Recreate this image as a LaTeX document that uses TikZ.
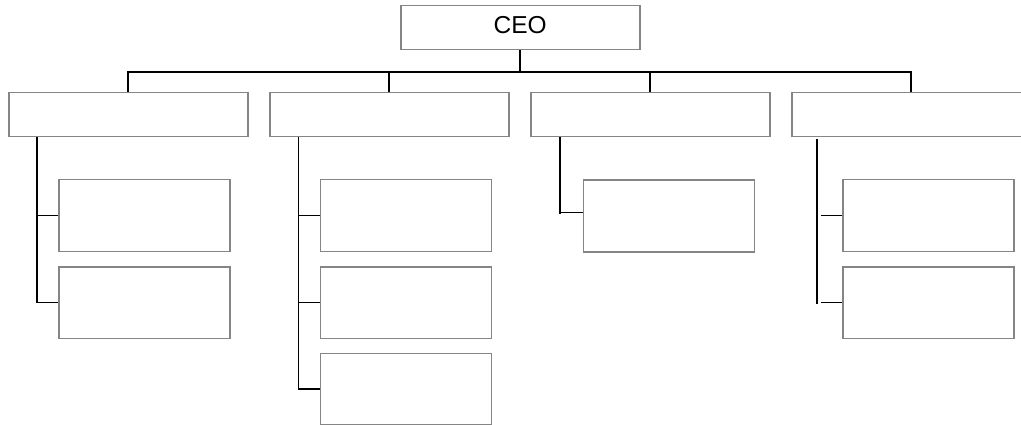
\documentclass[tikz,border=0pt]{standalone}
\usepackage{fontspec}
\setmainfont{Liberation Sans}
\usetikzlibrary{calc}
\definecolor{boxgray}{HTML}{858585}
\begin{document}
\begin{tikzpicture}[x=1pt,y=-1pt,
  box/.style={draw=boxgray, line width=1.5pt, fill=white, inner sep=0pt, anchor=north west},
  headbox/.style={box, minimum width=239pt, minimum height=44pt},
  subbox/.style={box, minimum width=171pt, minimum height=71.5pt},
  link/.style={draw=black, line width=1.6pt}]
\useasboundingbox (0,0) rectangle (1021,425);
% CEO
\node[box, minimum width=239pt, minimum height=44pt, font=\fontsize{24.5}{28}\selectfont, text depth=6pt] (ceo) at (400,5) {CEO};
% level 2
\node[headbox] (d1) at (8,92) {};
\node[headbox] (d2) at (269,92) {};
\node[headbox] (d3) at (530,92) {};
\node[headbox] (d4) at (791,92) {};
% level 3
\node[subbox] (s11) at (58,179) {};
\node[subbox] (s12) at (58,266) {};
\node[subbox] (s21) at (319.7,179) {};
\node[subbox] (s22) at (319.7,266) {};
\node[subbox] (s23) at (319.7,352.5) {};
\node[subbox] (s31) at (582.7,179.5) {};
\node[subbox] (s41) at (842,179) {};
\node[subbox] (s42) at (842,266) {};
% bus
\coordinate (bus) at ($(ceo.south)+(0,21.5)$);
\draw[link] (ceo.south) -- (bus);
\draw[link] (d1.north) |- (bus) -| (d4.north);
\draw[link] (d2.north) -- (d2.north |- bus);
\draw[link] (d3.north) -- (d3.north |- bus);
% column 1
\coordinate (sp1) at ($(d1.south west)+(29,0)$);
\draw[link] (sp1) |- (s12.west);
\draw[link] (s11.west) -- (s11.west -| sp1);
% column 2
\coordinate (sp2) at ($(d2.south west)+(29.3,0)$);
\draw[link] (sp2) |- (s23.west);
\draw[link] (s21.west) -- (s21.west -| sp2);
\draw[link] (s22.west) -- (s22.west -| sp2);
% column 3
\coordinate (sp3) at ($(d3.south west)+(29.7,0)$);
\coordinate (h3) at ($(s31.west)+(0,-3.5)$);
\draw[link] (sp3) -- ($(sp3 |- h3)+(0,1.8)$);
\draw[link] (h3) -- (h3 -| sp3);
% column 4
\coordinate (sp4) at ($(d4.south west)+(26,1.5)$);
\draw[link] (sp4) -- ($(sp4 |- s42.west)+(0,1.8)$);
\draw[link] (s41.west) -- ++(-21.3,0);
\draw[link] (s42.west) -- ++(-21.3,0);
\end{tikzpicture}
\end{document}
